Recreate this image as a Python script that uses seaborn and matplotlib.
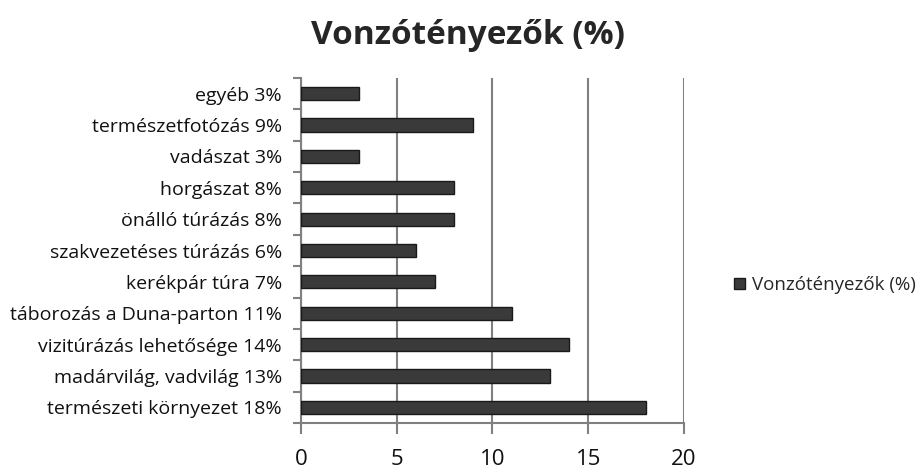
import numpy as np
import pandas as pd
import matplotlib
matplotlib.use("Agg")
import matplotlib.pyplot as plt
import seaborn as sns

# %% data
labels = ["egyéb 3%", "természetfotózás 9%", "vadászat 3%", "horgászat 8%",
          "önálló túrázás 8%", "szakvezetéses túrázás 6%", "kerékpár túra 7%",
          "táborozás a Duna-parton 11%", "vizitúrázás lehetősége 14%",
          "madárvilág, vadvilág 13%", "természeti környezet 18%"]
values = [3, 9, 3, 8, 8, 6, 7, 11, 14, 13, 18]
series = "Vonzótényezők (%)"

df = pd.DataFrame({"label": labels, "value": values, "series": series})

# %% plot
sns.set_style("white")
plt.rcParams["font.family"] = ["Open Sans", "DejaVu Sans"]

fig = plt.figure(figsize=(9.24, 4.7), dpi=100)
ax = fig.add_axes([0.326, 0.1, 0.414, 0.734])

sns.barplot(df, x="value", y="label", hue="series", palette=["#3a3a3a"],
            width=0.42, edgecolor="#1a1a1a", linewidth=1.0, ax=ax, zorder=3)

ax.set_xlim(0, 20)
ax.set_xticks([0, 5, 10, 15, 20])
ax.grid(axis="x", color="#808080", linewidth=1.5, zorder=0)
ax.set_ylim(len(labels) - 0.5, -0.5)
ax.set_yticks(np.arange(-0.5, len(labels)), minor=True)
ax.tick_params(axis="y", which="major", length=0, labelsize=14, pad=14,
               labelcolor="#111111")
ax.tick_params(axis="y", which="minor", length=6, color="#808080", width=1.5, left=True)
ax.tick_params(axis="x", length=8, color="#808080", width=1.5, bottom=True,
               labelsize=16, pad=11, labelcolor="#111111")
for s in ["top", "right"]:
    ax.spines[s].set_visible(False)
for s in ["left", "bottom"]:
    ax.spines[s].set_color("#808080")
    ax.spines[s].set_linewidth(1.5)
ax.set_xlabel("")
ax.set_ylabel("")

ax.legend(loc="center left", bbox_to_anchor=(1.113, 0.4), frameon=False,
          fontsize=13.5, handlelength=0.55, handleheight=0.55, handletextpad=0.4,
          borderaxespad=0)
fig.suptitle("Vonzótényezők (%)", fontsize=24, fontweight="bold",
             x=0.507, y=0.96)

fig.savefig("out.png", dpi=100)
